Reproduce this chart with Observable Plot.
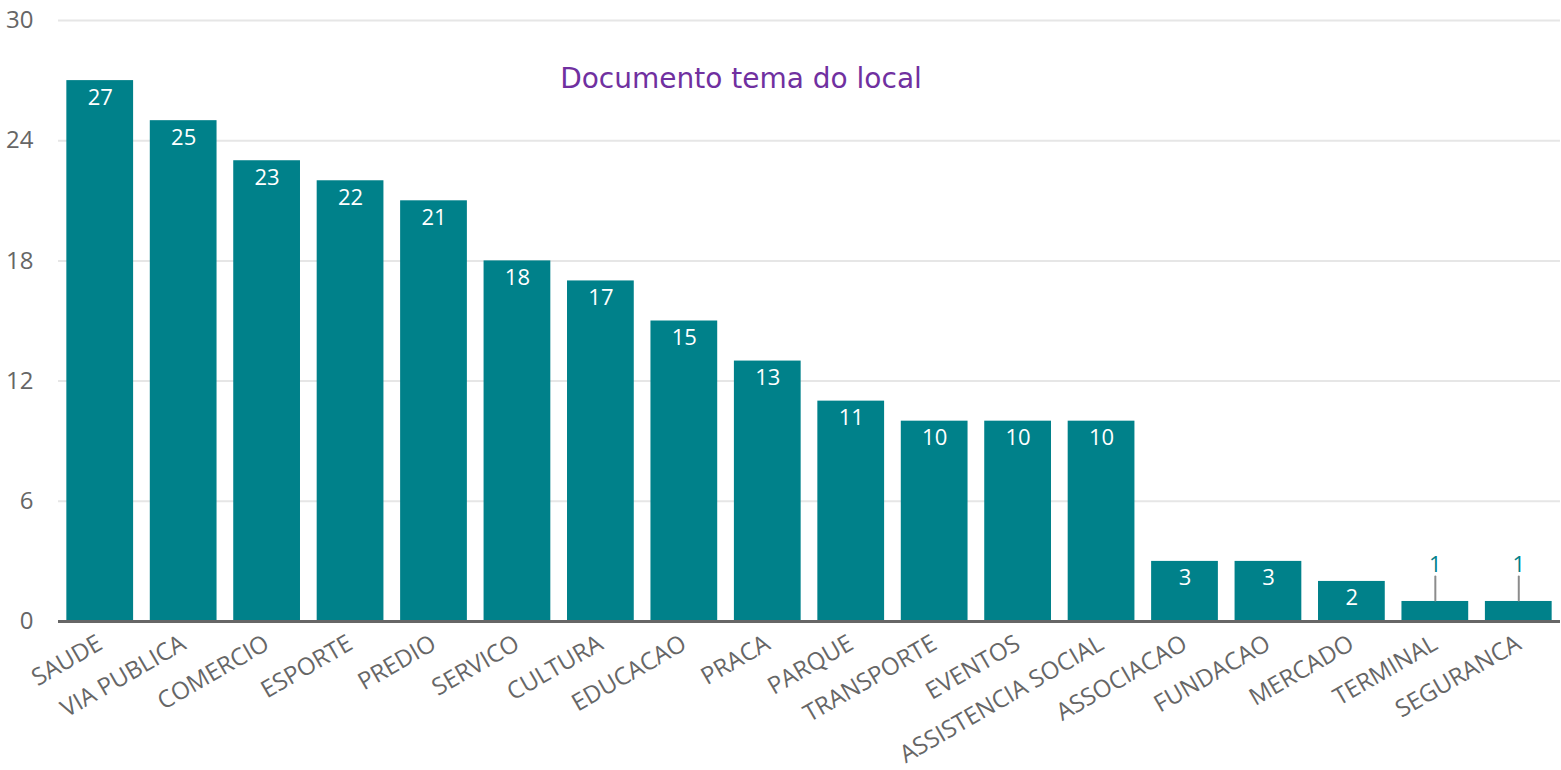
<!DOCTYPE html>
<html>
<head>
<meta charset="utf-8">
<script src="https://cdn.jsdelivr.net/npm/d3@7"></script>
<script src="https://cdn.jsdelivr.net/npm/@observablehq/plot@0.6"></script>
<style>
  body { margin: 0; background: #fff; }
  #wrap { position: relative; width: 1561px; height: 770px; }
  #title { position: absolute; left: 0; width: 1482px; top: 61px; line-height: 36px; text-align: center;
    font-family: "DejaVu Sans", "Open Sans", sans-serif; font-size: 28px; color: #7030a0; }
</style>
</head>
<body>
<div id="wrap"><div id="chart"></div><div id="title">Documento tema do local</div></div>
<script>
const categories = ["SAUDE","VIA PUBLICA","COMERCIO","ESPORTE","PREDIO","SERVICO","CULTURA","EDUCACAO","PRACA","PARQUE","TRANSPORTE","EVENTOS","ASSISTENCIA SOCIAL","ASSOCIACAO","FUNDACAO","MERCADO","TERMINAL","SEGURANCA"];
const values = [27,25,23,22,21,18,17,15,13,11,10,10,10,3,3,2,1,1];
const yTicks = [0,6,12,18,24,30];

const data = categories.map((c, i) => ({cat: c, value: values[i]}));
const inside = data.filter(d => d.value >= 2);
const outside = data.filter(d => d.value < 2);
const teal = "#00818a";

const chart = Plot.plot({
  width: 1561,
  height: 770,
  marginTop: 20,
  marginBottom: 149,
  marginLeft: 58,
  marginRight: 1,
  style: {fontFamily: "'Open Sans', sans-serif", fontSize: "24px", background: "#fff"},
  x: {domain: categories, paddingInner: 0.2, paddingOuter: 0.1, round: false, label: null},
  y: {domain: [0, 30], label: null},
  marks: [
    Plot.gridY(yTicks, {stroke: "#e6e6e6", strokeOpacity: 1, strokeWidth: 2}),
    Plot.axisY({ticks: yTicks, tickSize: 0, tickPadding: 25, fill: "#666", fontSize: 24, label: null}),
    Plot.axisX({tickSize: 0, tickPadding: 20, tickRotate: -30, fill: "#666", fontSize: 24, label: null}),
    Plot.barY(data, {x: "cat", y: "value", fill: teal}),
    Plot.ruleY([0], {stroke: "#666", strokeWidth: 3}),
    Plot.text(inside, {x: "cat", y: "value", text: d => String(d.value), dy: 17, fill: "#fff", fontSize: 22}),
    Plot.vector(outside, {x: "cat", y: "value", length: 24, rotate: 0, anchor: "start", dy: -1, stroke: "#8c8c8c", strokeWidth: 2,
      shape: {draw(context, l) { context.moveTo(0, 0); context.lineTo(0, -l); }}}),
    Plot.text(outside, {x: "cat", y: "value", text: d => String(d.value), dy: -37, fill: teal, fontSize: 22})
  ]
});
d3.select(chart).selectAll('[aria-label="y-axis tick label"]').attr("font-size", 24);
d3.select(chart).selectAll('[aria-label="x-axis tick label"]').attr("font-size", 24);
document.getElementById("chart").appendChild(chart);
</script>
</body>
</html>
